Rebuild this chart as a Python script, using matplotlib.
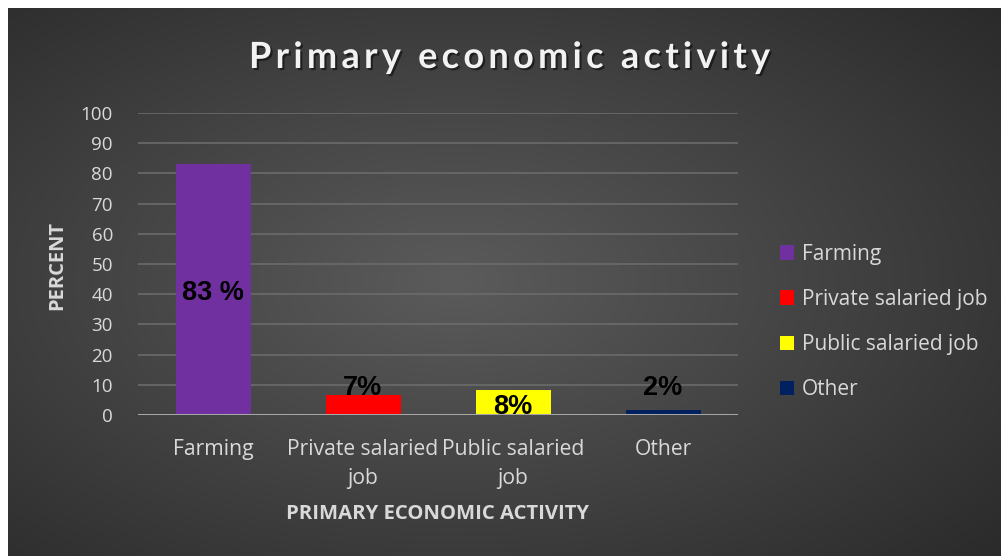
import matplotlib
matplotlib.use("Agg")
import matplotlib.pyplot as plt
import matplotlib.patheffects as pe
from matplotlib.colors import LinearSegmentedColormap
from matplotlib.font_manager import FontProperties
from matplotlib.patches import Patch
import numpy as np

# data
categories = ["Farming", "Private salaried job", "Public salaried job", "Other"]
tick_labels = ["Farming", "Private salaried\njob", "Public salaried\njob", "Other"]
values = [83, 6.6, 8.3, 1.7]
value_labels = ["83 %", "7%", "8%", "2%"]
label_y = [40.4, 8.9, 2.6, 8.9]
colors = ["#7030A0", "#FF0000", "#FFFF00", "#002060"]
title_text = "Primary economic activity"

W, H = 1001, 556
fig = plt.figure(figsize=(W / 100, H / 100), dpi=100, facecolor="white")

# dark radial gradient background
bg = fig.add_axes([8 / W, 0, (W - 8) / W, (H - 8) / H])
bg.set_axis_off()
yy, xx = np.mgrid[0:1:300j, 0:1:540j]
r = np.sqrt(((xx - 0.45) / 0.75) ** 2 + ((yy - 0.5) / 0.75) ** 2)
r = np.clip(r, 0, 1)
cmap = LinearSegmentedColormap.from_list("bg", ["#5b5b5b", "#2a2a2a"])
bg.imshow(r, cmap=cmap, aspect="auto", extent=[0, 1, 0, 1], vmin=0, vmax=1)
bg.set_xlim(0, 1)
bg.set_ylim(0, 1)

# main axes
ax = fig.add_axes([138 / W, (H - 415) / H, 600 / W, 302 / H])
ax.patch.set_alpha(0)
x = np.arange(len(categories))
ax.bar(x, values, width=0.5, color=colors, zorder=3)
ax.set_xlim(-0.5, len(categories) - 0.5)
ax.set_ylim(0, 100)
ax.set_yticks(range(0, 101, 10))
ax.grid(axis="y", color="#6b6b6b", linewidth=1.2, zorder=0)
ax.axhline(0, color="#a6a6a6", linewidth=2.2, zorder=4)
for s in ax.spines.values():
    s.set_visible(False)
ax.tick_params(length=0, colors="#d9d9d9", labelsize=13.5)
ax.tick_params(axis="y", pad=18)
ax.tick_params(axis="x", pad=17)
ax.set_xticks(x)
ax.set_xticklabels(tick_labels, fontfamily="Open Sans", fontsize=15.2, linespacing=1.55)
for t in ax.get_yticklabels():
    t.set_fontfamily("Open Sans")

for xi, lab, ly in zip(x, value_labels, label_y):
    ax.text(xi, ly, lab, ha="center", va="center", fontsize=19.5,
            fontweight="heavy", fontfamily="Liberation Sans", color="black", zorder=5)

fig.text(57 / W, 1 - 266 / H, "PERCENT", rotation=90, ha="center", va="center",
         fontsize=14.5, fontweight="bold", fontfamily="Open Sans", color="#d9d9d9")
fig.text(438 / W, 1 - 514 / H, "PRIMARY ECONOMIC ACTIVITY", ha="center", va="center",
         fontsize=14.6, fontweight="bold", fontfamily="Open Sans", color="#d9d9d9")

# title with letter spacing: place each character after its measured prefix
tprop = FontProperties(family="Lato", weight="bold", size=26)
renderer = fig.canvas.get_renderer()
def tw(s):
    return renderer.get_text_width_height_descent(s, tprop, ismath=False)[0]
natural = tw(title_text)
target_left, target_right = 249, 770
gap = max(0, (target_right - target_left - natural) / (len(title_text) - 1))
shadow = [pe.withSimplePatchShadow(offset=(1.5, -1.5), shadow_rgbFace="black", alpha=0.5)]
for i, ch in enumerate(title_text):
    if ch == " ":
        continue
    px = target_left + tw(title_text[:i]) + i * gap
    t = fig.text(px / W, 1 - 68 / H, ch, ha="left", va="baseline",
                 fontproperties=tprop, color="#f2f2f2")
    t.set_path_effects(shadow)

handles = [Patch(facecolor=c, edgecolor="none") for c in colors]
leg = fig.legend(handles, categories, loc="center left", bbox_to_anchor=(761 / W, 1 - 322 / H),
                 frameon=False, labelcolor="#d9d9d9", handlelength=0.7,
                 handleheight=0.7, handletextpad=0.35, labelspacing=1.16,
                 prop={"family": "Open Sans", "size": 15})

fig.savefig("out.png", dpi=100, facecolor="white")
